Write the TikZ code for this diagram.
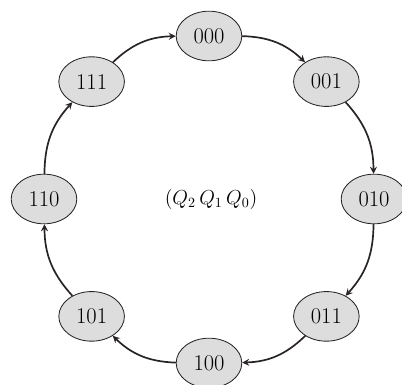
\documentclass[tikz,border=0pt]{standalone}
\usepackage{amsmath}
\usepackage{tikz}
\usetikzlibrary{shapes.geometric, arrows}
\definecolor{estgris}{RGB}{221,221,221}
\definecolor{estborde}{RGB}{40,36,36}
\tikzset{
  estado/.style={ellipse, minimum width=1.64cm, minimum height=1.24cm, inner sep=0pt, draw=estborde, fill=estgris, line width=0.6pt, font=\fontsize{16}{19}\selectfont},
  arrow/.style={line width=1.2pt,->,>=stealth,color=estborde}
}
\begin{document}
\begin{tikzpicture}[x=0.025cm, y=0.025cm,
  paso/.style={arrow, bend left=21},
  etiq/.style={font=\fontsize{14.5}{17}\selectfont}]
  \useasboundingbox (-209,-186) rectangle (193,199);
  % estados del contador
  \node (s000) [estado] at (90:163) {000};
  \node (s001) [estado] at (45:166) {001};
  \node (s010) [estado] at (0:165) {010};
  \node (s011) [estado] at (-45:166) {011};
  \node (s100) [estado] at (-90:164) {100};
  \node (s101) [estado] at (-135:166) {101};
  \node (s110) [estado] at (180:165) {110};
  \node (s111) [estado] at (135:166) {111};
  \node (q) [etiq] at (2,0) {$(Q_2\,Q_1\,Q_0)$};
  % transiciones
  \draw [paso] (s000) to (s001);
  \draw [paso] (s001) to (s010);
  \draw [paso] (s010) to (s011);
  \draw [paso] (s011) to (s100);
  \draw [paso] (s100) to (s101);
  \draw [paso] (s101) to (s110);
  \draw [paso] (s110) to (s111);
  \draw [paso] (s111) to (s000);
\end{tikzpicture}
\end{document}
